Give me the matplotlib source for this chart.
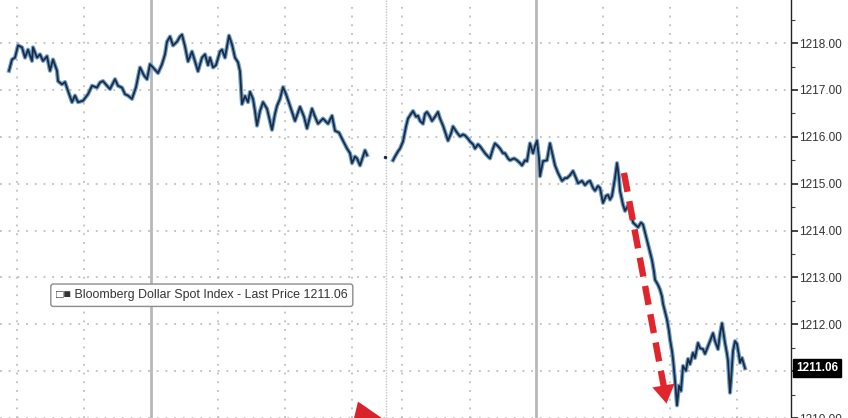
import numpy as np
import matplotlib.pyplot as plt
from matplotlib.ticker import MultipleLocator

# Bloomberg Dollar Spot Index, intraday (time in chart units)

t1 = [9, 12, 15, 18, 22, 25, 28, 32, 33, 37, 40, 43, 47, 50, 53, 57, 58, 62, 65, 68,
      72, 75, 78, 83, 88, 92, 97, 100, 103, 107, 110, 115, 118, 122, 125, 128,
      132, 136, 140, 144, 147, 150, 153, 158, 162, 165, 167, 170, 173, 177, 180, 182,
      185, 188, 192, 195, 198, 202, 205, 208, 210, 213, 216, 220, 222, 225, 229, 232,
      235, 238, 240, 242, 245, 248, 250, 253, 255, 257, 260, 263, 267, 272, 275, 277,
      280, 283, 286, 290, 295, 300, 304, 307, 312, 315, 318, 323, 328, 332, 335, 339,
      342, 347, 350, 352, 355, 357, 360, 363, 365, 367]
p1 = [1217.41, 1217.65, 1217.69, 1217.95, 1217.91, 1217.69, 1217.86, 1217.62, 1217.91, 1217.69,
      1217.76, 1217.62, 1217.72, 1217.41, 1217.65, 1217.41, 1217.19, 1217.12, 1217.17, 1216.98,
      1216.74, 1216.88, 1216.74, 1216.77, 1216.91, 1217.09, 1217.05, 1217.16, 1217.19, 1217.09,
      1217.02, 1217.23, 1217.09, 1217.05, 1216.91, 1216.88,
      1216.81, 1217.06, 1217.48, 1217.31, 1217.23, 1217.55, 1217.48, 1217.36, 1217.55, 1217.76,
      1218.03, 1218.14, 1217.95, 1218.03, 1218.14, 1218.18, 1217.93, 1217.61, 1217.82, 1217.61,
      1217.40, 1217.69, 1217.76, 1217.53, 1217.69, 1217.48, 1217.53, 1217.82, 1217.86, 1217.69,
      1218.16, 1217.97, 1217.69, 1217.59, 1217.40, 1216.70, 1216.87, 1216.74, 1216.96, 1216.81,
      1216.55, 1216.24, 1216.55, 1216.74, 1216.60, 1216.15, 1216.49, 1216.66, 1216.81, 1217.06,
      1216.91, 1216.66, 1216.34, 1216.64, 1216.43, 1216.18, 1216.60, 1216.43, 1216.28, 1216.39,
      1216.28, 1216.45, 1216.13, 1216.09, 1215.96, 1215.75, 1215.65, 1215.44, 1215.58, 1215.54,
      1215.39, 1215.58, 1215.71, 1215.61]

# lone print during the session break
t_break = [385]
p_break = [1215.58]

t2 = [393, 395, 398, 400, 403, 406, 408, 411, 413, 416, 418, 420, 423, 425, 427, 430, 432, 435,
      438, 440, 443, 446, 448, 451, 453, 457, 460, 463, 465, 468, 470, 473, 475, 478, 480, 483,
      485, 488, 490, 493, 495, 498, 500, 503, 505, 508, 510, 514, 517, 520, 522, 525, 527, 530,
      533, 535, 537, 539, 540, 543, 547, 550, 553, 555, 558, 562, 565, 567, 570, 573, 576, 578,
      582, 585, 588, 590, 593, 595, 598, 600, 603, 606, 608, 610, 612, 615, 617, 619, 620, 623,
      625, 628, 630, 633, 636, 638, 641, 643, 645, 647, 650, 652, 654, 655, 658, 660, 662, 663,
      665, 667, 669, 670, 672, 673, 675, 677, 679, 681, 683, 686, 688, 690, 693, 695, 698, 700,
      703, 705, 708, 710, 713, 715, 718, 720, 722, 724, 725, 727, 728, 730, 731, 733, 735, 737,
      739, 740, 742, 745]
p2 = [1215.50, 1215.58, 1215.69, 1215.75, 1215.90, 1216.22, 1216.39, 1216.49, 1216.55, 1216.43,
      1216.45, 1216.34, 1216.28, 1216.49, 1216.53, 1216.43, 1216.34, 1216.43, 1216.53, 1216.39,
      1216.24, 1216.05, 1215.92, 1216.07, 1216.22, 1216.09, 1216.01, 1216.05, 1216.03, 1215.96,
      1215.90, 1215.84, 1215.75, 1215.84, 1215.80, 1215.71, 1215.65, 1215.58, 1215.54, 1215.75,
      1215.86, 1215.80, 1215.75, 1215.65, 1215.65, 1215.54, 1215.50, 1215.54, 1215.50, 1215.44,
      1215.39, 1215.50, 1215.48, 1215.86, 1215.65, 1215.80, 1215.92, 1215.54, 1215.16, 1215.48,
      1215.50, 1215.86, 1215.58, 1215.39, 1215.23, 1215.06, 1215.12, 1215.12, 1215.18, 1215.27,
      1215.12, 1215.01, 1215.06, 1214.97, 1215.04, 1215.06, 1214.91, 1214.85, 1214.95, 1214.91,
      1214.59, 1214.74, 1214.76, 1214.66, 1214.74, 1215.12, 1215.44, 1215.12, 1214.85, 1214.55,
      1214.42, 1214.53, 1214.49, 1214.17, 1214.11, 1214.07, 1214.17, 1214.13, 1213.96, 1213.79,
      1213.54, 1213.37, 1213.12, 1212.95, 1212.84, 1212.74, 1212.59, 1212.44, 1212.27, 1212.10,
      1211.85, 1211.68, 1211.43, 1211.26, 1210.80, 1210.27, 1210.69, 1210.58, 1211.11, 1211.01,
      1211.26, 1211.15, 1211.39, 1211.28, 1211.60, 1211.49, 1211.47, 1211.37, 1211.53, 1211.64,
      1211.81, 1211.64, 1211.47, 1211.79, 1212.02, 1211.74, 1211.60, 1211.37, 1211.22, 1210.54,
      1210.80, 1211.43, 1211.64, 1211.58, 1211.33, 1211.18, 1211.28, 1211.06]

last_price = 1211.06
grid_times = [17, 84, 218, 285, 352, 402, 470, 603, 670, 737]
day_breaks = [151, 536]
session_gap = 386
arrow_from = (624, 1215.23)
arrow_to = (667, 1210.25)
# head of a second red arrow, cropped by the bottom edge
head2_t = [358, 392, 350]
head2_p = [1210.35, 1209.85, 1209.64]

fig = plt.figure(figsize=(8.48, 4.18), dpi=100)
ax = fig.add_axes([0, 0, 791 / 848, 1])
ax.set_xlim(0, 791)
ax.set_ylim(1210.10, 1218.92)

# grid
for v in range(1210, 1219):
    ax.axhline(v, color='#b4b4b4', lw=1.1, ls=(0, (1.2, 4.5)), zorder=1)
for g in grid_times:
    ax.axvline(g, color='#b4b4b4', lw=1.1, ls=(0, (1.2, 4.5)), zorder=1)
for g in day_breaks:
    ax.axvline(g, color='#b8b8b8', lw=2.0, zorder=1)
ax.axvline(session_gap, color='#c4c4c4', lw=1.0, ls=(0, (1, 1)), zorder=1)

# price line (blue glow + dark core)
for t, p in [(t1, p1), (t_break, p_break), (t2, p2)]:
    ax.plot(t, p, color='#6d9fd0', lw=3.0, solid_joinstyle='round', zorder=3)
    ax.plot(t, p, color='#1d2b3d', lw=1.3, marker='.' if len(t) == 1 else None,
            ms=3, zorder=4)

# red dashed arrow
ax.plot([arrow_from[0], arrow_to[0] - 3], [arrow_from[1], arrow_to[1] + 0.4],
        color='#e0262c', lw=4.6, ls=(0, (3.0, 1.5)), solid_capstyle='butt', zorder=5)
ax.annotate('', xy=arrow_to, xytext=(arrow_to[0] - 4, arrow_to[1] + 0.5),
            arrowprops=dict(arrowstyle='-|>,head_length=1.3,head_width=0.8',
                            color='#e0262c', lw=0.1), zorder=6)
ax.fill(head2_t, head2_p, color='#d9232b', lw=0, zorder=6)

# legend box
ax.text(56, 1212.62, '\u25a1\u25a0 Bloomberg Dollar Spot Index - Last Price 1211.06',
        fontsize=8.9, family=['Liberation Sans', 'DejaVu Sans'], color='#333333',
        va='center', ha='left', zorder=7,
        bbox=dict(boxstyle='round,pad=0.42,rounding_size=0.2', fc='white',
                  ec='#8c8c8c', lw=1.0))

# right axis
for s in ['left', 'top', 'bottom']:
    ax.spines[s].set_visible(False)
ax.spines['right'].set_color('#222222')
ax.spines['right'].set_linewidth(1.0)
ax.xaxis.set_visible(False)
ax.yaxis.tick_right()
ticks = list(range(1210, 1219))
ax.set_yticks(ticks)
ax.set_yticklabels(['' if v == 1211 else f'{v:.2f}' for v in ticks])
ax.yaxis.set_minor_locator(MultipleLocator(0.5))
ax.tick_params(axis='y', which='major', length=5, width=1.2, color='#222222',
               labelsize=8.5, labelcolor='#333333', pad=1)
ax.tick_params(axis='y', which='minor', length=3, width=0.8, color='#444444')
for lab in ax.get_yticklabels():
    lab.set_family(['Liberation Sans', 'DejaVu Sans'])

ax.text(796, last_price, f'{last_price:.2f}', fontsize=8.5, color='white',
        family=['Liberation Sans', 'DejaVu Sans'], va='center', ha='left',
        fontweight='bold', clip_on=False, zorder=8,
        bbox=dict(boxstyle='square,pad=0.25', fc='black', ec='black'))

fig.savefig('out.png', dpi=100)
